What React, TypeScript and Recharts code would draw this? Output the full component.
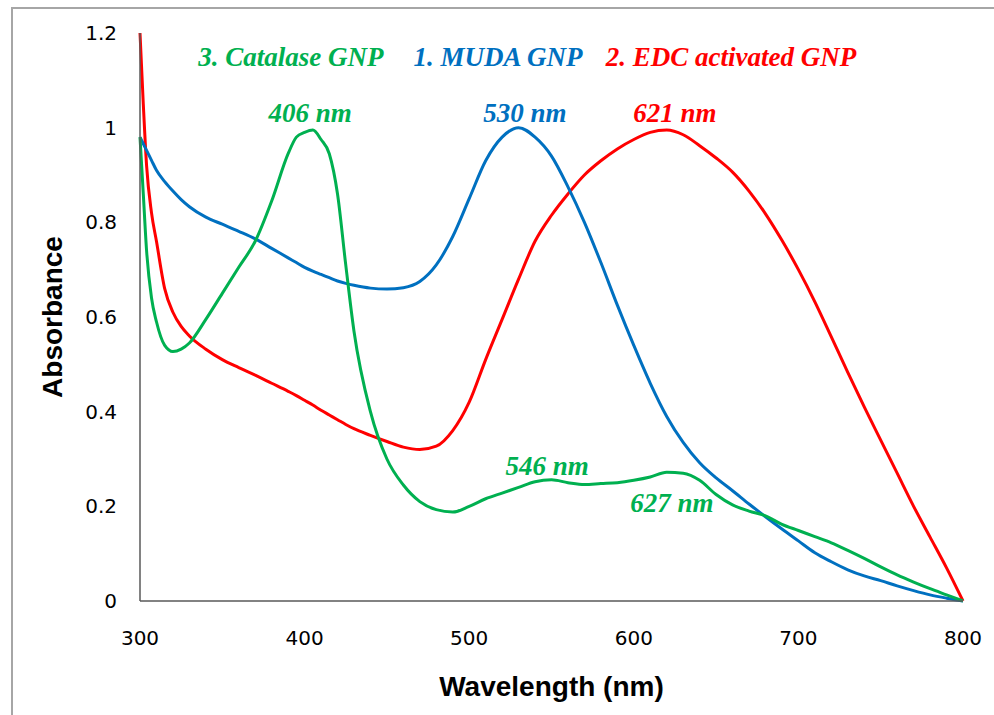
import { Label, Line, LineChart, ReferenceDot, XAxis, YAxis } from 'recharts'

// wavelength grid (nm) shared by all three spectra
const wavelengths = [
  300, 302, 304, 307, 310, 315, 320, 325, 330, 340, 350, 360, 370, 380, 390, 395, 400, 405,
  410, 415, 420, 425, 430, 440, 450, 460, 470, 480, 490, 500, 510, 520, 530, 540, 550, 560,
  570, 580, 590, 600, 610, 620, 630, 640, 650, 660, 670, 680, 690, 700, 710, 720, 730, 740,
  750, 760, 770, 780, 790, 800,
]

const muda = [
  0.98, 0.966, 0.952, 0.931, 0.91, 0.886, 0.866, 0.848, 0.833, 0.811, 0.796, 0.781, 0.765,
  0.745, 0.725, 0.715, 0.705, 0.697, 0.69, 0.683, 0.676, 0.671, 0.667, 0.661, 0.659, 0.662,
  0.675, 0.71, 0.77, 0.85, 0.93, 0.98, 1.0, 0.98, 0.94, 0.875, 0.8, 0.715, 0.625, 0.54, 0.46,
  0.39, 0.335, 0.292, 0.26, 0.233, 0.205, 0.178, 0.152, 0.127, 0.102, 0.083, 0.066, 0.053,
  0.043, 0.032, 0.022, 0.013, 0.006, 0,
]

const edc = [
  1.2, 1.05, 0.92, 0.82, 0.76, 0.66, 0.61, 0.58, 0.56, 0.532, 0.51, 0.493, 0.477, 0.46, 0.443,
  0.434, 0.424, 0.414, 0.403, 0.393, 0.383, 0.373, 0.364, 0.35, 0.337, 0.325, 0.32, 0.327,
  0.36, 0.42, 0.51, 0.595, 0.68, 0.76, 0.815, 0.86, 0.9, 0.93, 0.955, 0.975, 0.99, 0.995,
  0.985, 0.962, 0.936, 0.906, 0.866, 0.818, 0.762, 0.7, 0.632, 0.558, 0.483, 0.41, 0.34,
  0.27, 0.2, 0.135, 0.07, 0,
]

const catalase = [
  0.98, 0.86, 0.74, 0.64, 0.59, 0.54, 0.527, 0.532, 0.545, 0.595, 0.65, 0.705, 0.76, 0.845,
  0.945, 0.98, 0.99, 0.995, 0.975, 0.945, 0.86, 0.71, 0.57, 0.4, 0.3, 0.245, 0.21, 0.193,
  0.188, 0.2, 0.216, 0.228, 0.24, 0.252, 0.256, 0.25, 0.246, 0.248, 0.25, 0.255, 0.262, 0.272,
  0.27, 0.255, 0.225, 0.203, 0.19, 0.18, 0.162, 0.149, 0.136, 0.123, 0.107, 0.09, 0.072,
  0.055, 0.04, 0.026, 0.013, 0,
]

const xTicks = [300, 400, 500, 600, 700, 800]
const yTicks = [0, 0.2, 0.4, 0.6, 0.8, 1, 1.2]

const GREEN = '#00B050'
const BLUE = '#0070C0'
const RED = '#FF0000'

// text notes placed in data space
const notes = [
  { nm: 391.7, abs: 1.1495, text: '3. Catalase GNP', color: GREEN },
  { nm: 517.5, abs: 1.1495, text: '1. MUDA GNP', color: BLUE },
  { nm: 659.1, abs: 1.1495, text: '2. EDC activated GNP', color: RED },
  { nm: 403.3, abs: 1.031, text: '406 nm', color: GREEN },
  { nm: 533.9, abs: 1.031, text: '530 nm', color: BLUE },
  { nm: 625.0, abs: 1.031, text: '621 nm', color: RED },
  { nm: 547.3, abs: 0.285, text: '546 nm', color: GREEN },
  { nm: 623.2, abs: 0.207, text: '627 nm', color: GREEN },
]

const data = wavelengths.map((nm, i) => ({
  nm,
  muda: muda[i],
  edc: edc[i],
  catalase: catalase[i],
}))

function NoteText(props: any) {
  const { viewBox, text, color } = props
  const x = viewBox.x + (viewBox.width || 0) / 2
  const y = viewBox.y + (viewBox.height || 0) / 2
  return (
    <text
      x={x}
      y={y}
      textAnchor="middle"
      dominantBaseline="central"
      fill={color}
      fontFamily="'Liberation Serif', 'Times New Roman', serif"
      fontStyle="italic"
      fontWeight="bold"
      fontSize={27}
    >
      {text}
    </text>
  )
}

const tickStyle = { fontFamily: "'DejaVu Sans', sans-serif", fontSize: 20, fill: '#000' }
const titleFont = "'Liberation Sans', Arial, sans-serif"

export default function App() {
  return (
    <div style={{ position: 'absolute', left: 0, top: 0, width: 994, height: 715, background: '#fff' }}>
      <div
        style={{
          position: 'absolute',
          left: 11,
          top: 7,
          right: 0,
          bottom: 0,
          borderTop: '2px solid #a6a6a6',
          borderLeft: '2px solid #a6a6a6',
        }}
      />
      <LineChart width={994} height={715} data={data} margin={{ top: 33, right: 31, bottom: 0, left: 0 }}>
        <XAxis
          dataKey="nm"
          type="number"
          domain={[300, 800]}
          ticks={xTicks}
          height={114}
          tickLine={false}
          tickSize={0}
          tickMargin={30}
          axisLine={{ stroke: '#595959', strokeWidth: 1.5 }}
          tick={tickStyle}
        >
          <Label
            content={({ viewBox }: any) => (
              <text
                x={viewBox.x + viewBox.width / 2}
                y={viewBox.y + 85}
                textAnchor="middle"
                dominantBaseline="central"
                fontFamily={titleFont}
                fontWeight="bold"
                fontSize={28}
                fill="#000"
              >
                Wavelength (nm)
              </text>
            )}
          />
        </XAxis>
        <YAxis
          type="number"
          domain={[0, 1.2]}
          ticks={yTicks}
          width={140}
          tickLine={false}
          tickSize={0}
          tickMargin={23}
          axisLine={{ stroke: '#595959', strokeWidth: 1.5 }}
          tick={tickStyle}
        >
          <Label
            content={({ viewBox }: any) => {
              const cx = viewBox.x + 52
              const cy = viewBox.y + viewBox.height / 2
              return (
                <text
                  x={cx}
                  y={cy}
                  transform={`rotate(-90, ${cx}, ${cy})`}
                  textAnchor="middle"
                  dominantBaseline="central"
                  fontFamily={titleFont}
                  fontWeight="bold"
                  fontSize={28}
                  fill="#000"
                >
                  Absorbance
                </text>
              )
            }}
          />
        </YAxis>
        <Line type="monotone" dataKey="edc" stroke={RED} strokeWidth={3} dot={false} isAnimationActive={false} />
        <Line type="monotone" dataKey="muda" stroke={BLUE} strokeWidth={3} dot={false} isAnimationActive={false} />
        <Line type="monotone" dataKey="catalase" stroke={GREEN} strokeWidth={3} dot={false} isAnimationActive={false} />
        {notes.map((n) => (
          <ReferenceDot
            key={n.text}
            x={n.nm}
            y={n.abs}
            r={0}
            fill="none"
            stroke="none"
            label={<NoteText text={n.text} color={n.color} />}
          />
        ))}
      </LineChart>
    </div>
  )
}
